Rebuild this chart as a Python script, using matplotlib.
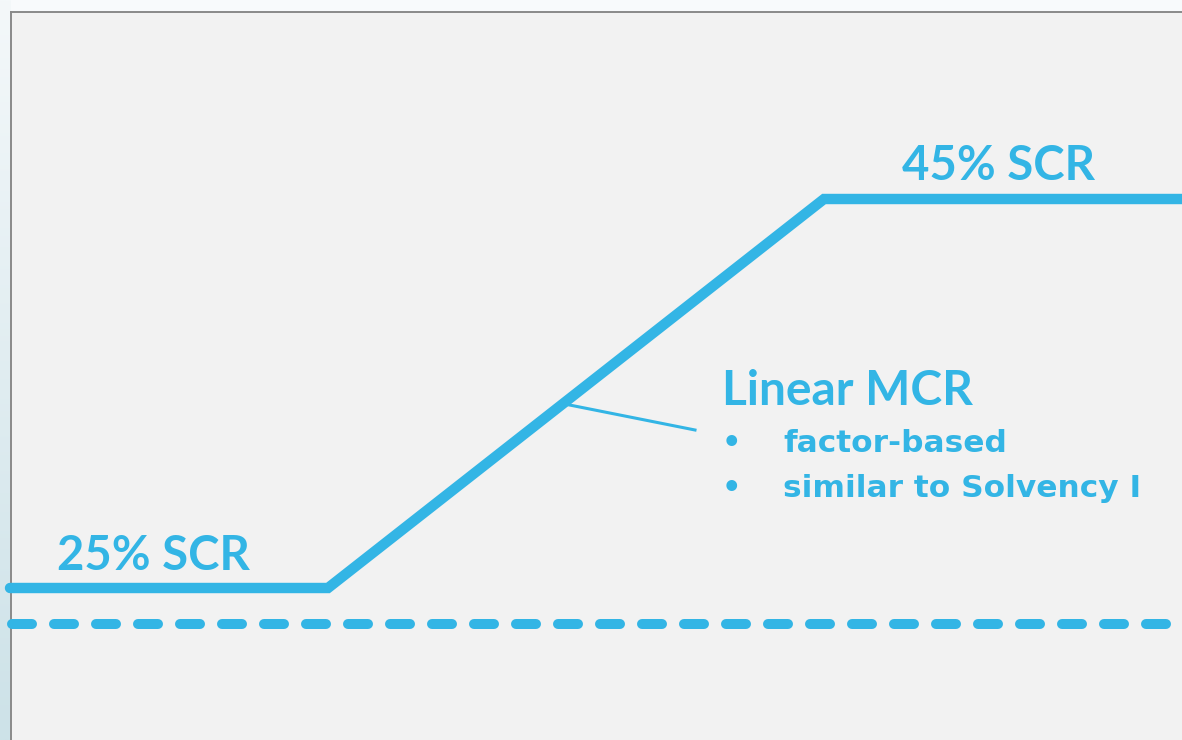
import numpy as np
import matplotlib.pyplot as plt
from matplotlib.patches import Rectangle
from matplotlib.colors import LinearSegmentedColormap

# MCR as a share of the SCR along the exposure axis
knot_x = [10, 328, 824, 1182]
mcr_pct = [25, 25, 45, 45]
floor_x = [12, 1182]
floor_pct = [23.15, 23.15]

low_label = "25% SCR"
high_label = "45% SCR"
title = "Linear MCR"
bullets = ["factor-based", "similar to Solvency I"]

BLUE = "#33b5e5"
W, H = 1182, 740

fig = plt.figure(figsize=(W / 100, H / 100), dpi=100, facecolor="#f8fafc")

# slide frame drawn in pixel space
bg = fig.add_axes([0, 0, 1, 1], zorder=0)
bg.set_xlim(0, W)
bg.set_ylim(H, 0)
bg.axis("off")
grad = np.linspace(0, 1, 256)[:, None]
strip = LinearSegmentedColormap.from_list("strip", ["#f4f8fa", "#cde2e8"])
bg.imshow(grad, cmap=strip, extent=[0, 11, H, 0], aspect="auto")
bg.add_patch(Rectangle((11, 12), W - 11, H - 12, facecolor="#f2f2f2", edgecolor="none"))
bg.plot([11, 11], [12, H], color="#8a8a8a", lw=1.4)
bg.plot([11, W], [12, 12], color="#8a8a8a", lw=1.4)

# data axes: y in % of SCR
ax = fig.add_axes([0, 0, 1, 1], zorder=1)
ax.patch.set_alpha(0)
ax.axis("off")
ax.set_xlim(0, W)
px_per_pct = (588 - 199) / 20
ax.set_ylim(45 - (H - 199) / px_per_pct, 45 + 199 / px_per_pct)


def pix_y(p):
    return 45 - (p - 199) / px_per_pct


ax.plot(knot_x, mcr_pct, color=BLUE, lw=7.5, solid_capstyle="round",
        solid_joinstyle="miter", clip_on=False)
ax.plot(floor_x, floor_pct, color=BLUE, lw=7.2, linestyle=(0, (2.0, 2.2)),
        dash_capstyle="round", clip_on=False)

font = dict(family="Lato", weight="bold", color=BLUE)
small = dict(family="DejaVu Sans", weight="bold", color=BLUE)

ax.annotate(low_label, xy=(57, mcr_pct[0]), xytext=(0, 13), textcoords="offset points",
            fontsize=34, va="baseline", ha="left", **font)
ax.annotate(high_label, xy=(902, mcr_pct[-1]), xytext=(0, 13.7), textcoords="offset points",
            fontsize=34, va="baseline", ha="left", **font)

# leader from the slope to the label
lead_x = 563
lead_y = np.interp(lead_x, knot_x, mcr_pct)
ax.plot([lead_x, 695], [lead_y, pix_y(430)], color=BLUE, lw=2.2)

ax.text(722, pix_y(405), title, fontsize=34.5, va="baseline", ha="left", **font)
for i, b in enumerate(bullets):
    yb = pix_y(452 + 45 * i)
    ax.text(722, yb, "•", fontsize=22, va="baseline", ha="left", **small)
    ax.text(783, yb, b, fontsize=22.5, va="baseline", ha="left", **small)

fig.savefig("out.png", dpi=100, facecolor=fig.get_facecolor())
